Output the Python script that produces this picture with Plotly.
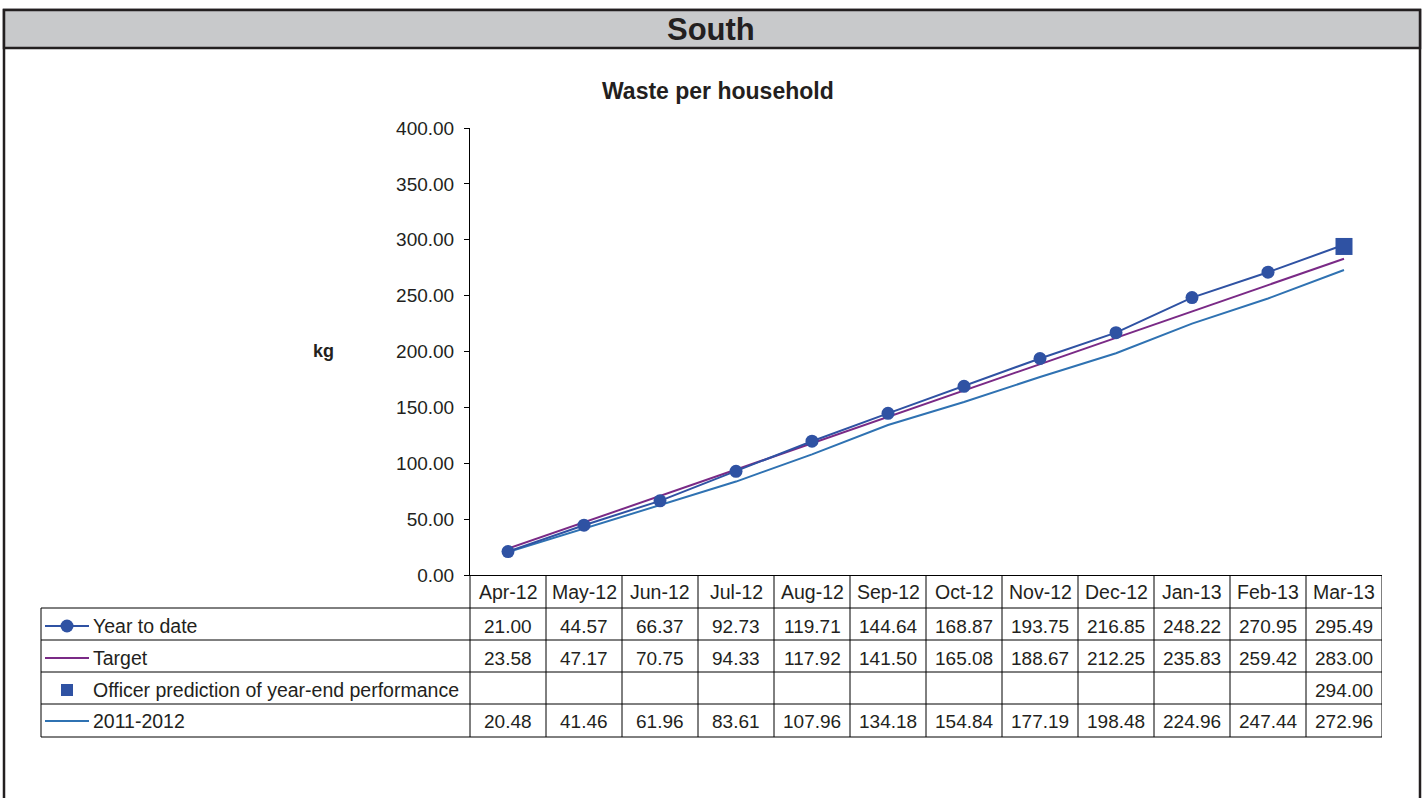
import plotly.graph_objects as go

# chart data
months = ['Apr-12', 'May-12', 'Jun-12', 'Jul-12', 'Aug-12', 'Sep-12',
          'Oct-12', 'Nov-12', 'Dec-12', 'Jan-13', 'Feb-13', 'Mar-13']
year_to_date = [21.00, 44.57, 66.37, 92.73, 119.71, 144.64,
                168.87, 193.75, 216.85, 248.22, 270.95, 295.49]
target = [23.58, 47.17, 70.75, 94.33, 117.92, 141.50,
          165.08, 188.67, 212.25, 235.83, 259.42, 283.00]
prediction = [None] * 11 + [294.00]
last_year = [20.48, 41.46, 61.96, 83.61, 107.96, 134.18,
             154.84, 177.19, 198.48, 224.96, 247.44, 272.96]
series_names = ['Year to date', 'Target',
                'Officer prediction of year-end performance', '2011-2012']

C_YTD = '#2F52A3'
C_TARGET = '#7A2A86'
C_LAST = '#2F72B2'
TXT = '#231F20'
FONT = 'Liberation Sans, Arial, sans-serif'

# page geometry (pixels)
W, H = 1423, 798
L, R, T, B = 470, 1382, 128, 575


def px(x):
    return (x - L) / (R - L)


def py(y):
    return (B - y) / (B - T)


fig = go.Figure()
fig.add_trace(go.Scatter(x=months, y=last_year, mode='lines', name=series_names[3],
                         line=dict(color=C_LAST, width=2)))
fig.add_trace(go.Scatter(x=months, y=target, mode='lines', name=series_names[1],
                         line=dict(color=C_TARGET, width=2)))
fig.add_trace(go.Scatter(x=months, y=year_to_date, mode='lines+markers', name=series_names[0],
                         line=dict(color=C_YTD, width=2), marker=dict(size=13, color=C_YTD)))
fig.add_trace(go.Scatter(x=months, y=prediction, mode='markers', name=series_names[2],
                         marker=dict(size=17, symbol='square', color=C_YTD)))

shapes = []
annotations = []


def text(x, y, s, size, xref='paper', xanchor='center', bold=False):
    annotations.append(dict(x=x, y=py(y), xref=xref, yref='paper', text=f'<b>{s}</b>' if bold else s,
                            xanchor=xanchor, yanchor='middle', showarrow=False,
                            font=dict(size=size, color=TXT, family=FONT)))


def hline(x0, x1, y, xref='paper', width=1):
    shapes.append(dict(type='line', xref=xref, yref='paper', x0=x0, x1=x1, y0=py(y), y1=py(y),
                       line=dict(color='black', width=width)))


def vline(x, y0, y1, xref='paper', width=1):
    shapes.append(dict(type='line', xref=xref, yref='paper', x0=x, x1=x, y0=py(y0), y1=py(y1),
                       line=dict(color='black', width=width)))


# outer frame and title bar
shapes.append(dict(type='rect', xref='paper', yref='paper', x0=px(4), x1=px(1420),
                   y0=py(810), y1=py(10), line=dict(color='#231F20', width=2.5)))
shapes.append(dict(type='rect', xref='paper', yref='paper', x0=px(4), x1=px(1420),
                   y0=py(48), y1=py(10), fillcolor='#C8C9CB', line=dict(color='#231F20', width=2.5)))
text(px(711), 29, 'South', 31, bold=True)
text(px(718), 91, 'Waste per household', 23, bold=True)
text(px(323), 351, 'kg', 18, bold=True)

# data table
row_lines = [608, 640, 672, 704, 737]
row_mid = [626, 658, 690, 721]
vline(px(470), 575, 737)
vline(px(41), 608, 737)
for y in row_lines:
    hline(px(41), 1, y)
for i in range(len(months)):
    vline(i + 0.5, 575, 737, xref='x')
    text(months[i], 592, months[i], 19.5, xref='x')

table_rows = [year_to_date, target, prediction, last_year]
row_colors = [C_YTD, C_TARGET, C_YTD, C_LAST]
for r, (vals, name, col) in enumerate(zip(table_rows, series_names, row_colors)):
    ym = row_mid[r]
    text(px(91), ym, name, 19.5, xanchor='left')
    if r == 2:
        shapes.append(dict(type='rect', xref='paper', yref='paper', xsizemode='pixel', ysizemode='pixel',
                           xanchor=px(67), yanchor=py(ym), x0=-6, x1=6, y0=-6, y1=6,
                           fillcolor=col, line=dict(width=0)))
    else:
        shapes.append(dict(type='line', xref='paper', yref='paper', x0=px(45), x1=px(89),
                           y0=py(ym), y1=py(ym), line=dict(color=col, width=2)))
        if r == 0:
            shapes.append(dict(type='circle', xref='paper', yref='paper', xsizemode='pixel', ysizemode='pixel',
                               xanchor=px(67), yanchor=py(ym), x0=-6.5, x1=6.5, y0=-6.5, y1=6.5,
                               fillcolor=col, line=dict(width=0)))
    for i, v in enumerate(vals):
        if v is None:
            continue
        text(months[i], ym, f'{v:.2f}', 19, xref='x')

fig.update_layout(
    width=W, height=H,
    margin=dict(l=L, r=W - R, t=T, b=H - B, pad=0),
    paper_bgcolor='white', plot_bgcolor='white',
    showlegend=False,
    font=dict(family=FONT, size=18, color=TXT),
    shapes=shapes, annotations=annotations,
    xaxis=dict(type='category', range=[-0.5, 11.5], showticklabels=False, showgrid=False,
               showline=True, linecolor='black', linewidth=1, ticks='', zeroline=False, fixedrange=True),
    yaxis=dict(range=[0, 400], dtick=50, tickformat='.2f', showgrid=False, zeroline=False,
               showline=True, linecolor='black', linewidth=1, ticks='outside', ticklen=5,
               tickcolor='black', ticklabelstandoff=6, tickfont=dict(size=19, color=TXT)),
)

fig.write_html('out.html', config={'displayModeBar': False},
               post_script="document.body.style.margin='0';")
